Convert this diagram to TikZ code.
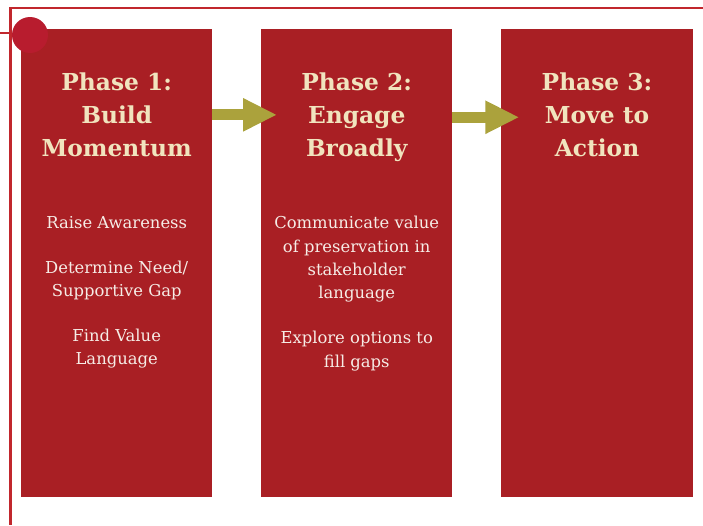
\documentclass[tikz,border=0pt]{standalone}
\usepackage{fontspec}
\setmainfont{DejaVu Serif}
\usepackage{tikz}
\usetikzlibrary{positioning,arrows.meta}
\definecolor{phasered}{HTML}{A91F24}
\definecolor{framered}{HTML}{C1272D}
\definecolor{dotred}{HTML}{B81C2E}
\definecolor{arrowolive}{HTML}{ABA23C}
\definecolor{titlecream}{HTML}{F1E4BE}
\definecolor{bodywhite}{HTML}{F6ECE6}
\tikzset{
  phase/.style={
    fill=phasered, draw=none, outer sep=0pt, inner sep=0pt,
    minimum width=143.6pt, minimum height=351.4pt,
  },
  ptitle/.style={
    align=center, inner sep=0pt, text=titlecream,
    font=\bfseries\fontsize{17.5pt}{24.75pt}\selectfont,
  },
  pbody/.style={
    align=center, inner sep=0pt, text=bodywhite,
    font=\fontsize{12.3pt}{17.6pt}\selectfont,
  },
  frame/.style={draw=framered, line width=1.7pt},
  dot/.style={circle, fill=dotred, inner sep=0pt, minimum size=27pt},
  step arrow/.style={
    draw=arrowolive, line width=8.25pt,
    -{Triangle[length=25.5pt, width=23.25pt]},
  },
}

\begin{document}
\begin{tikzpicture}[x=1pt, y=1pt]
\useasboundingbox (0,0) rectangle (527.25,-393.75);

% the three phase columns
\node[phase, anchor=north west] (ph1) at (15.75,-21.4) {};
\node[phase, right=36.4pt of ph1] (ph2) {};
\node[phase, right=36.6pt of ph2] (ph3) {};

% Phase 1
\node[ptitle, below=33pt of ph1.north] (ph1title) {Phase 1:\\Build\\Momentum};
\node[pbody, below=140.5pt of ph1.north] (ph1body)
  {Raise Awareness\\[16pt]Determine Need/\\Supportive Gap\\[16pt]Find Value\\Language};

% Phase 2
\node[ptitle, below=33pt of ph2.north] (ph2title) {Phase 2:\\Engage\\Broadly};
\node[pbody, below=140.5pt of ph2.north] (ph2body)
  {Communicate value\\of preservation in\\stakeholder\\language\\[16pt]Explore options to\\fill gaps};

% Phase 3
\node[ptitle, below=33pt of ph3.north] (ph3title) {Phase 3:\\Move to\\Action};

% frame and corner dot
\coordinate (topright) at (527.25,-5.9);
\coordinate (bottomleft) at (7.9,-393.75);
\coordinate (stub) at (0,-24.75);
\draw[frame] (topright) -| (bottomleft);
\node[dot] (dot) at (22.5,-26.25) {};
\draw[frame] (stub) -- (stub -| dot.west);

% arrows between phases
\draw[step arrow] (ph1.east |- ph1title) -- ([xshift=12pt]ph2.west |- ph1title);
\draw[step arrow] (ph2.east |- ph2title) -- ([xshift=13.5pt]ph3.west |- ph2title);

\end{tikzpicture}
\end{document}
